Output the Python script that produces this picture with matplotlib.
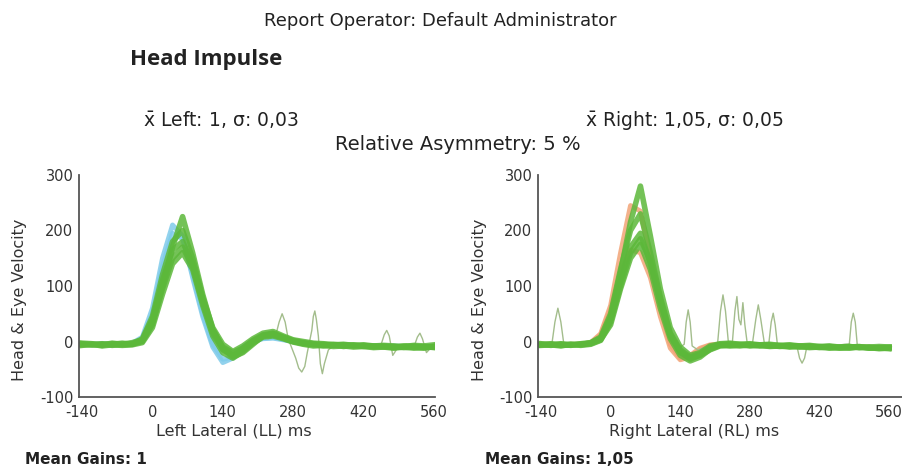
import matplotlib
matplotlib.use("Agg")
import matplotlib.pyplot as plt

plt.rcParams["axes.unicode_minus"] = False

# ---------------- data ----------------
time_ms = [-140, -120, -100, -80, -60, -40, -20, 0, 20, 40, 60, 80, 100, 120, 140, 160, 180, 200,
           220, 240, 260, 280, 300, 320, 340, 360, 380, 400, 420, 440, 460, 480, 500, 520, 540, 560]

left_head_1 = [-4, -5, -4, -5, -4, -3, 8, 60, 150, 210, 190, 115, 45, -10, -38, -30, -12, 0,
               5, 6, 3, 0, -3, -5, -5, -6, -6, -7, -7, -8, -8, -8, -9, -9, -9, -9]
left_head_2 = [-5, -6, -5, -6, -5, -4, 5, 50, 135, 195, 185, 120, 50, -5, -32, -28, -10, 2,
               6, 7, 4, 0, -3, -5, -6, -6, -7, -7, -8, -8, -9, -9, -9, -10, -10, -10]

left_eye_1 = [-5, -6, -4, -7, -5, -4, 0, 30, 95, 150, 170, 135, 70, 15, -15, -25, -15, 0,
              10, 12, 6, 0, -3, -6, -5, -7, -6, -8, -7, -9, -8, -10, -9, -8, -10, -9]
left_eye_2 = [-3, -4, -6, -3, -5, -2, 3, 40, 110, 165, 180, 140, 75, 20, -10, -20, -12, 2,
              12, 15, 8, 2, -2, -4, -6, -5, -7, -6, -9, -8, -10, -9, -11, -10, -9, -11]
left_eye_3 = [-7, -5, -8, -6, -7, -6, -2, 25, 85, 140, 160, 130, 65, 10, -20, -30, -18, -3,
              8, 10, 5, -1, -5, -8, -7, -9, -8, -10, -9, -11, -10, -12, -10, -12, -11, -10]
left_eye_4 = [-4, -6, -5, -5, -3, -5, 5, 45, 120, 180, 200, 150, 80, 25, -5, -18, -8, 5,
              15, 18, 10, 3, 0, -3, -4, -6, -5, -7, -6, -8, -7, -8, -9, -7, -8, -6]
left_eye_5 = [-6, -5, -7, -4, -6, -5, 1, 35, 100, 170, 225, 160, 85, 22, -12, -28, -20, -5,
              10, 14, 7, 0, -4, -5, -8, -6, -9, -7, -8, -10, -9, -11, -8, -10, -12, -9]

left_out_a_t = [230, 245, 252, 258, 264, 270, 285, 291, 297, 303, 308, 317, 320, 323, 326, 330,
                334, 338, 342, 350, 365]
left_out_a_v = [5, 10, 35, 50, 35, 5, -30, -48, -55, -45, -20, 20, 45, 55, 40, 10,
                -40, -58, -40, -15, -5]
left_out_b_t = [440, 455, 461, 466, 471, 478, 490, 505, 520, 527, 532, 537, 545, 560]
left_out_b_v = [-8, -5, 12, 20, 10, -25, -8, -5, -10, 8, 15, 5, -20, -5]

right_head_1 = [-5, -5, -6, -5, -5, -2, 14, 65, 160, 245, 235, 150, 60, -5, -30, -25, -12, -6,
                -5, -5, -6, -6, -7, -7, -8, -8, -8, -9, -9, -9, -10, -10, -10, -10, -11, -11]
right_head_2 = [-6, -6, -6, -6, -5, -3, 12, 58, 125, 165, 160, 115, 45, -12, -33, -28, -14, -7,
                -6, -6, -7, -7, -7, -8, -8, -8, -9, -9, -9, -10, -10, -10, -10, -11, -11, -11]

right_eye_1 = [-6, -5, -7, -6, -5, -3, 5, 40, 110, 170, 195, 140, 70, 10, -20, -30, -25, -15,
               -8, -6, -5, -7, -6, -8, -7, -9, -8, -10, -9, -11, -10, -9, -11, -10, -12, -11]
right_eye_2 = [-4, -6, -5, -7, -4, -2, 8, 50, 130, 200, 230, 160, 80, 15, -15, -28, -22, -10,
               -5, -4, -6, -5, -7, -6, -8, -7, -9, -8, -10, -9, -11, -10, -9, -12, -11, -10]
right_eye_3 = [-7, -6, -8, -5, -6, -4, 3, 30, 95, 150, 175, 130, 60, 5, -25, -35, -28, -14,
               -7, -8, -6, -8, -7, -9, -8, -10, -9, -11, -10, -12, -11, -12, -10, -11, -13, -12]
right_eye_4 = [-5, -7, -4, -6, -5, -3, 6, 45, 125, 215, 280, 190, 95, 25, -10, -25, -20, -8,
               -4, -3, -5, -4, -6, -5, -7, -6, -8, -7, -9, -8, -10, -9, -11, -10, -9, -10]
right_eye_5 = [-6, -4, -6, -5, -7, -5, 2, 35, 100, 160, 185, 145, 75, 12, -18, -32, -24, -12,
               -6, -7, -8, -6, -8, -7, -9, -8, -10, -9, -11, -10, -12, -11, -10, -12, -11, -13]

right_out_a_t = [-140, -118, -112, -106, -100, -94, -70]
right_out_a_v = [-5, -4, 35, 60, 35, -5, -6]
right_out_b_t = [140, 148, 152, 156, 160, 164, 175, 200, 215, 221, 226, 231, 237, 245, 250, 254,
                 258, 262, 266, 270, 275, 285, 292, 297, 302, 310, 318, 323, 327, 331, 336, 350]
right_out_b_v = [-10, -5, 35, 57, 35, -8, -15, -8, -5, 55, 84, 55, -3, 0, 55, 81,
                 40, 30, 70, 30, -5, -5, 40, 66, 40, -8, -5, 35, 51, 30, -10, -8]
right_out_c_t = [360, 375, 380, 385, 390, 395, 420, 450, 470, 480, 484, 488, 492, 496, 510]
right_out_c_v = [-8, -10, -30, -39, -30, -8, -6, -8, -5, -5, 35, 51, 35, -6, -9]

x_ticks = [-140, 0, 140, 280, 420, 560]
y_ticks = [-100, 0, 100, 200, 300]

# ---------------- styling ----------------
GREEN = "#5cb83a"
BLUE = "#7fcbea"
ORANGE = "#f2a477"
OUTLINE = "#a3bd8c"
SPINE = "#555555"
TXT = "#222222"
FONT = ["DejaVu Sans"]
BOLD_FONT = ["Open Sans", "DejaVu Sans"]

fig = plt.figure(figsize=(9.03, 4.72), dpi=100)
W, H = 903.0, 472.0


def make_axes(x0, x1, xlim):
    ax = fig.add_axes([x0 / W, 1 - 397 / H, (x1 - x0) / W, (397 - 175) / H])
    ax.set_xlim(*xlim)
    ax.set_ylim(-100, 300)
    ax.set_xticks(x_ticks)
    ax.set_yticks(y_ticks)
    for s in ("top", "right"):
        ax.spines[s].set_visible(False)
    for s in ("left", "bottom"):
        ax.spines[s].set_color(SPINE)
        ax.spines[s].set_linewidth(1.3)
    ax.tick_params(axis="y", length=0, labelsize=10.5, colors="#333333", pad=4)
    ax.tick_params(axis="x", length=0, labelsize=10.5, colors="#333333", pad=6)
    ax.set_ylabel("Head & Eye Velocity", fontsize=11.5, color="#333333")
    return ax


axL = make_axes(79, 435, (-146, 562))
axR = make_axes(538, 903, (-146, 588))

for head in (left_head_1, left_head_2):
    axL.plot(time_ms, head, color=BLUE, lw=3.5, alpha=0.85, solid_joinstyle="round")
axL.plot(left_out_a_t, left_out_a_v, color=OUTLINE, lw=1.0)
axL.plot(left_out_b_t, left_out_b_v, color=OUTLINE, lw=1.0)
for eye in (left_eye_1, left_eye_2, left_eye_3, left_eye_4, left_eye_5):
    axL.plot(time_ms, eye, color=GREEN, lw=4.0, alpha=0.85, solid_joinstyle="round")

for head in (right_head_1, right_head_2):
    axR.plot(time_ms, head, color=ORANGE, lw=3.5, alpha=0.85, solid_joinstyle="round")
axR.plot(right_out_a_t, right_out_a_v, color=OUTLINE, lw=1.0)
axR.plot(right_out_b_t, right_out_b_v, color=OUTLINE, lw=1.0)
axR.plot(right_out_c_t, right_out_c_v, color=OUTLINE, lw=1.0)
for eye in (right_eye_1, right_eye_2, right_eye_3, right_eye_4, right_eye_5):
    axR.plot(time_ms, eye, color=GREEN, lw=4.0, alpha=0.85, solid_joinstyle="round")

axL.set_xlabel("Left Lateral (LL) ms", fontsize=11.5, color="#333333")
axR.set_xlabel("Right Lateral (RL) ms", fontsize=11.5, color="#333333")
axL.xaxis.set_label_coords((234 - 79) / 356, (397 - 424) / 222)
axR.xaxis.set_label_coords((694 - 538) / 365, (397 - 424) / 222)
axL.yaxis.set_label_coords((27 - 79) / 356, (397 - 300) / 222)
axR.yaxis.set_label_coords((487 - 538) / 365, (397 - 300) / 222)

# ---------------- texts ----------------
fig.text(440 / W, 1 - 21 / H, "Report Operator: Default Administrator", ha="center", va="center",
         fontsize=13, color=TXT, family=FONT)
fig.text(130 / W, 1 - 60 / H, "Head Impulse", ha="left", va="center",
         fontsize=16, fontweight="bold", color=TXT, family=BOLD_FONT)
fig.text(143 / W, 1 - 120 / H, r"$\bar{\mathrm{x}}$ Left: 1, $\mathrm{\sigma}$: 0,03", ha="left",
         va="center", fontsize=13.5, color=TXT, family=FONT)
fig.text(585 / W, 1 - 120 / H, r"$\bar{\mathrm{x}}$ Right: 1,05, $\mathrm{\sigma}$: 0,05", ha="left",
         va="center", fontsize=13.5, color=TXT, family=FONT)
fig.text(458 / W, 1 - 144 / H, "Relative Asymmetry: 5 %", ha="center", va="center",
         fontsize=14, color=TXT, family=FONT)
fig.text(25 / W, 1 - 460 / H, "Mean Gains: 1", ha="left", va="center",
         fontsize=11, fontweight="bold", color=TXT, family=FONT)
fig.text(485 / W, 1 - 460 / H, "Mean Gains: 1,05", ha="left", va="center",
         fontsize=11, fontweight="bold", color=TXT, family=FONT)

fig.savefig("out.png", dpi=100)
